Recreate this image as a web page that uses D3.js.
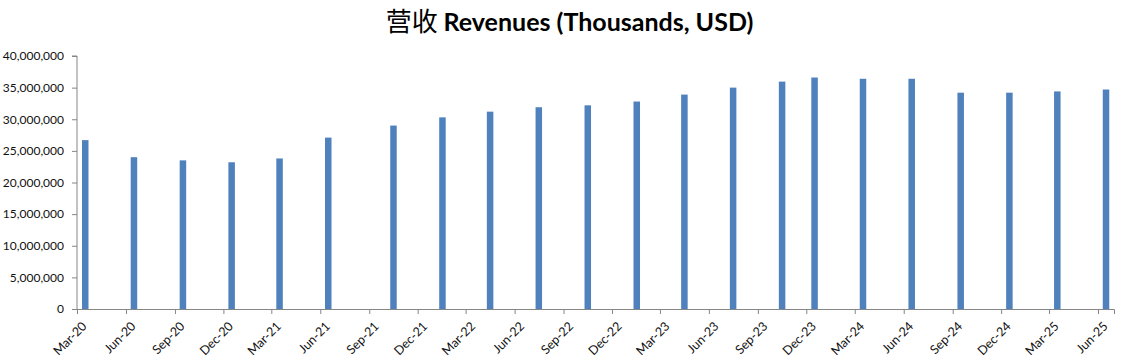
<!DOCTYPE html>
<html>
<head>
<meta charset="utf-8">
<script src="https://cdn.jsdelivr.net/npm/d3@7"></script>
<style>
  html, body { margin: 0; padding: 0; background: #fff; }
  svg { display: block; }
</style>
</head>
<body>
<svg id="chart" width="1137" height="361"></svg>
<script>
// ---- Data ----
const periods = ["2020-03","2020-06","2020-09","2020-12","2021-03","2021-06","2021-10","2022-01","2022-04","2022-07","2022-10","2023-01","2023-04","2023-07","2023-10","2023-12","2024-03","2024-06","2024-09","2024-12","2025-03","2025-06"];
const revenues = [26700000,24000000,23500000,23200000,23800000,27100000,29000000,30300000,31200000,31900000,32200000,32800000,33900000,35000000,35950000,36600000,36400000,36400000,34200000,34200000,34400000,34700000];
const tickLabels = ["Mar-20","Jun-20","Sep-20","Dec-20","Mar-21","Jun-21","Sep-21","Dec-21","Mar-22","Jun-22","Sep-22","Dec-22","Mar-23","Jun-23","Sep-23","Dec-23","Mar-24","Jun-24","Sep-24","Dec-24","Mar-25","Jun-25"];
const yTicks = [0,5000000,10000000,15000000,20000000,25000000,30000000,35000000,40000000];
const titleCN = "营收";
const titleEN = "Revenues (Thousands, USD)";

// ---- Layout ----
const svg = d3.select("#chart");
const margin = {left: 77, right: 23, top: 56, bottom: 52};
const W = 1137, H = 361;
const plotW = W - margin.left - margin.right;
const plotH = H - margin.top - margin.bottom;
const axisColor = "#868686";
const barColor = "#4F81BD";
const font = "Lato, 'Open Sans', sans-serif";

const parseP = d3.timeParse("%Y-%m");
const parseT = d3.timeParse("%b-%y");
const data = periods.map((p, i) => ({date: parseP(p), value: revenues[i]}));
const tickDates = tickLabels.map(t => parseT(t));

const x = d3.scaleTime()
  .domain([tickDates[0], d3.timeMonth.offset(tickDates[tickDates.length - 1], 1)])
  .range([margin.left, margin.left + plotW]);
const y = d3.scaleLinear().domain([0, 40000000]).range([margin.top + plotH, margin.top]);

const barW = 6.5;
const midMonth = d => new Date((d.getTime() + d3.timeMonth.offset(d, 1).getTime()) / 2);

// Bars
svg.append("g").selectAll("rect").data(data).join("rect")
  .attr("x", d => x(midMonth(d.date)) - barW / 2)
  .attr("y", d => y(d.value))
  .attr("width", barW)
  .attr("height", d => y(0) - y(d.value))
  .attr("fill", barColor);

// Y axis
const yAxis = svg.append("g")
  .attr("transform", `translate(${margin.left},0)`)
  .call(d3.axisLeft(y).tickValues(yTicks).tickFormat(d3.format(",")).tickSize(5).tickPadding(8));
yAxis.selectAll("path, line").attr("stroke", axisColor);
yAxis.select(".domain").attr("d", `M-5,${y(40000000)}H0V${y(0)}`);
yAxis.selectAll("text").attr("font-family", font).attr("font-size", 12).attr("fill", "#111");

// X axis
const xAxis = svg.append("g")
  .attr("transform", `translate(0,${y(0)})`)
  .call(d3.axisBottom(x).tickValues(tickDates).tickFormat((d, i) => tickLabels[i]).tickSize(5).tickSizeOuter(5));
xAxis.selectAll("path, line").attr("stroke", axisColor);
xAxis.selectAll("text")
  .attr("font-family", font).attr("font-size", 12.5).attr("fill", "#111")
  .attr("text-anchor", "end")
  .attr("dy", null).attr("y", null)
  .attr("transform", "translate(10,18) rotate(-45)");

// Title
const title = svg.append("text")
  .attr("x", W / 2 + 1)
  .attr("y", 31)
  .attr("text-anchor", "middle")
  .attr("fill", "#000");
title.append("tspan")
  .attr("font-family", "'Noto Sans CJK SC', sans-serif")
  .attr("font-size", 26)
  .attr("font-weight", 400)
  .text(titleCN + " ");
title.append("tspan")
  .attr("font-family", font)
  .attr("font-size", 25)
  .attr("font-weight", 700)
  .text(titleEN);
</script>
</body>
</html>
